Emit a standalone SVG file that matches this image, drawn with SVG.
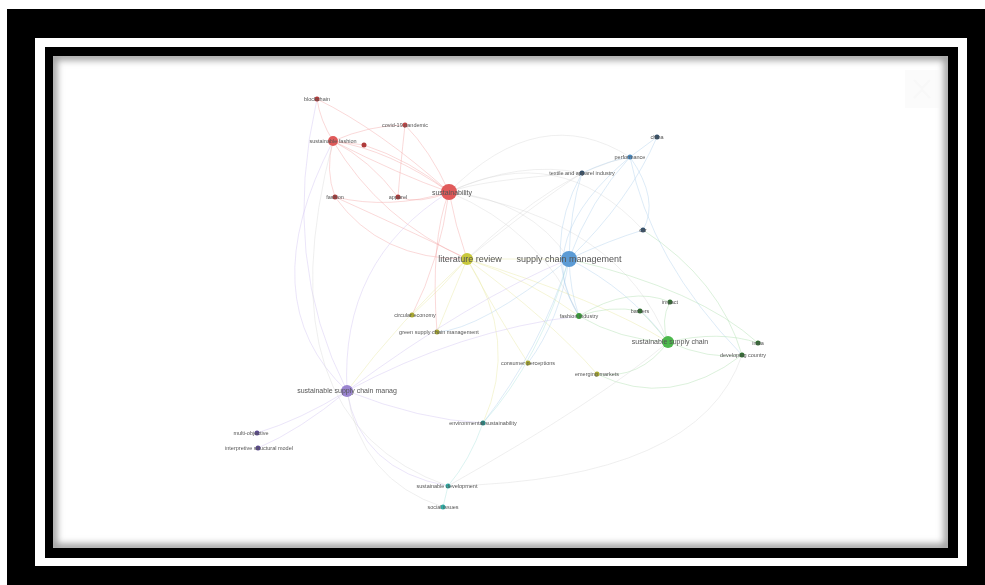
<svg xmlns="http://www.w3.org/2000/svg" width="985" height="585" viewBox="0 0 985 585">
<defs>
<filter id="blur" x="-10%" y="-10%" width="120%" height="120%"><feGaussianBlur stdDeviation="3.5"/></filter>
<filter id="soft"><feGaussianBlur stdDeviation="0.5"/></filter>
<clipPath id="cp"><rect x="53" y="56" width="895" height="492"/></clipPath>
<style>
.lbl{font-family:"Liberation Sans",Arial,sans-serif;fill:#555;text-anchor:middle}
.s{font-size:5.5px}
.m{font-size:7px}
.b{font-size:9px}
.e{fill:none;stroke-width:1;opacity:0.4}
.r{stroke:#f2a0a0}.y{stroke:#e6e69a}.bl{stroke:#a9cdec}.g{stroke:#a8dca8}.p{stroke:#cdbdf0}.t{stroke:#a8e0dc}.gr{stroke:#d8d8d8}
</style>
</defs>
<rect width="985" height="585" fill="#fff"/>
<rect x="7" y="9" width="978" height="576" fill="#000"/>
<rect x="35" y="38" width="932" height="528" fill="#fff"/>
<rect x="45" y="47" width="913" height="511" fill="#000"/>
<rect x="53" y="56" width="895" height="492" fill="#fff"/>
<g clip-path="url(#cp)">
<rect x="53" y="56" width="895" height="492" fill="none" stroke="#9a9a9a" stroke-width="8" filter="url(#blur)"/>
</g>
<g id="zoom-control" opacity="0.35">
<rect x="905" y="70" width="34" height="38" fill="#f4f4f4"/>
<path d="M914 80 L922 88 L930 80 M914 98 L922 90 L930 98" stroke="#ececec" stroke-width="2" fill="none"/>
</g>
<g id="connectors" filter="url(#soft)">
<path class="e r" d="M317 99 Q320 120 333 141"/>
<path class="e r" d="M317 99 Q380 130 449 192"/>
<path class="e r" d="M333 141 Q390 150 449 192"/>
<path class="e r" d="M333 141 Q400 175 449 192"/>
<path class="e r" d="M333 141 L364 145"/>
<path class="e r" d="M333 141 Q325 170 335 197"/>
<path class="e r" d="M333 141 Q370 160 398 197"/>
<path class="e r" d="M333 141 Q380 220 467 259"/>
<path class="e r" d="M405 125 Q430 150 449 192"/>
<path class="e r" d="M405 125 Q370 125 333 141"/>
<path class="e r" d="M405 125 Q400 170 398 197"/>
<path class="e r" d="M364 145 Q410 160 449 192"/>
<path class="e r" d="M449 192 Q390 210 335 197"/>
<path class="e r" d="M449 192 Q420 205 398 197"/>
<path class="e r" d="M449 192 Q455 225 467 259"/>
<path class="e r" d="M449 192 Q430 240 437 332"/>
<path class="e r" d="M449 192 Q440 260 412 315"/>
<path class="e r" d="M335 197 Q380 260 467 259"/>
<path class="e r" d="M335 197 Q430 240 467 259"/>
<path class="e gr" d="M449 192 Q530 200 569 259"/>
<path class="e gr" d="M449 192 Q520 160 582 173"/>
<path class="e gr" d="M449 192 Q540 100 630 157"/>
<path class="e gr" d="M449 192 Q560 140 643 230"/>
<path class="e gr" d="M449 192 Q540 230 579 316"/>
<path class="e gr" d="M449 192 Q620 220 668 342"/>
<path class="e p" d="M333 141 Q250 300 347 391"/>
<path class="e p" d="M449 192 Q340 260 347 391"/>
<path class="e p" d="M317 99 Q280 260 347 391"/>
<path class="e gr" d="M333 141 Q260 420 448 486"/>
<path class="e y" d="M467 259 L569 259"/>
<path class="e y" d="M467 259 Q440 290 412 315"/>
<path class="e y" d="M467 259 Q450 300 437 332"/>
<path class="e y" d="M467 259 Q500 320 528 363"/>
<path class="e y" d="M467 259 Q400 320 347 391"/>
<path class="e y" d="M467 259 Q530 280 579 316"/>
<path class="e y" d="M467 259 Q550 320 597 374"/>
<path class="e y" d="M467 259 Q520 340 483 423"/>
<path class="e y" d="M467 259 Q600 300 668 342"/>
<path class="e gr" d="M467 259 Q540 200 582 173"/>
<path class="e gr" d="M467 259 Q560 170 630 157"/>
<path class="e bl" d="M569 259 Q570 210 582 173"/>
<path class="e bl" d="M569 259 Q590 200 630 157"/>
<path class="e bl" d="M569 259 Q630 200 657 137"/>
<path class="e bl" d="M569 259 Q610 240 643 230"/>
<path class="e bl" d="M569 259 Q570 290 579 316"/>
<path class="e bl" d="M569 259 Q630 290 668 342"/>
<path class="e bl" d="M569 259 Q540 350 483 423"/>
<path class="e bl" d="M569 259 Q560 320 528 363"/>
<path class="e bl" d="M569 259 Q480 330 437 332"/>
<path class="e bl" d="M630 157 L657 137"/>
<path class="e bl" d="M630 157 Q610 160 582 173"/>
<path class="e bl" d="M630 157 Q660 200 643 230"/>
<path class="e bl" d="M630 157 Q650 260 742 355"/>
<path class="e bl" d="M582 173 Q540 250 579 316"/>
<path class="e bl" d="M630 157 Q530 240 579 316"/>
<path class="e gr" d="M582 173 Q480 180 449 192"/>
<path class="e g" d="M579 316 Q610 305 640 311"/>
<path class="e g" d="M579 316 Q620 340 668 342"/>
<path class="e g" d="M579 316 Q630 285 670 302"/>
<path class="e g" d="M668 342 Q660 320 670 302"/>
<path class="e g" d="M668 342 Q650 320 640 311"/>
<path class="e g" d="M668 342 Q720 330 758 343"/>
<path class="e g" d="M668 342 Q710 360 742 355"/>
<path class="e g" d="M668 342 Q640 380 597 374"/>
<path class="e g" d="M742 355 Q720 280 643 230"/>
<path class="e g" d="M758 343 Q700 290 569 259"/>
<path class="e g" d="M742 355 Q670 410 597 374"/>
<path class="e p" d="M347 391 Q300 420 257 433"/>
<path class="e p" d="M347 391 Q300 430 258 448"/>
<path class="e p" d="M347 391 Q360 470 448 486"/>
<path class="e p" d="M347 391 Q420 420 483 423"/>
<path class="e p" d="M347 391 Q470 300 569 259"/>
<path class="e p" d="M347 391 Q460 330 579 316"/>
<path class="e t" d="M483 423 Q470 460 448 486"/>
<path class="e t" d="M448 486 L443 507"/>
<path class="e t" d="M483 423 Q540 360 569 259"/>
<path class="e gr" d="M448 486 Q700 480 742 355"/>
<path class="e gr" d="M448 486 Q600 400 668 342"/>
<path class="e gr" d="M443 507 Q360 480 347 391"/>
</g>
<g id="node-blockchain"><circle cx="317" cy="99" r="2.5" fill="#b03a3a"/><text class="lbl s" x="317" y="101">blockchain</text></g>
<g id="node-sustainable-fashion"><circle cx="333" cy="141" r="5" fill="#e05a5a"/><text class="lbl s" x="333" y="143">sustainable fashion</text></g>
<g id="node-red-small"><circle cx="364" cy="145" r="2.5" fill="#b03a3a"/></g>
<g id="node-covid"><circle cx="405" cy="125" r="2.5" fill="#c04545"/><text class="lbl s" x="405" y="127">covid-19 pandemic</text></g>
<g id="node-sustainability"><circle cx="449" cy="192" r="8" fill="#e05a5a"/><text class="lbl m" x="452" y="195">sustainability</text></g>
<g id="node-fashion"><circle cx="335" cy="197" r="2.5" fill="#b03a3a"/><text class="lbl s" x="335" y="199">fashion</text></g>
<g id="node-apparel"><circle cx="398" cy="197" r="2.5" fill="#b03a3a"/><text class="lbl s" x="398" y="199">apparel</text></g>
<g id="node-literature-review"><circle cx="467" cy="259" r="6" fill="#c8c83c"/><text class="lbl b" x="470" y="262">literature review</text></g>
<g id="node-circular-economy"><circle cx="412" cy="315" r="2.5" fill="#a8a830"/><text class="lbl s" x="415" y="317">circular economy</text></g>
<g id="node-gscm"><circle cx="437" cy="332" r="2.5" fill="#a8a830"/><text class="lbl s" x="439" y="334">green supply chain management</text></g>
<g id="node-consumer"><circle cx="528" cy="363" r="2.5" fill="#a8a830"/><text class="lbl s" x="528" y="365">consumer perceptions</text></g>
<g id="node-emerging-markets"><circle cx="597" cy="374" r="2.5" fill="#a8a830"/><text class="lbl s" x="597" y="376">emerging markets</text></g>
<g id="node-scm"><circle cx="569" cy="259" r="8" fill="#5b9bd5"/><text class="lbl b" x="569" y="262">supply chain management</text></g>
<g id="node-textile"><circle cx="582" cy="173" r="2.5" fill="#34506b"/><text class="lbl s" x="582" y="175">textile and apparel industry</text></g>
<g id="node-performance"><circle cx="630" cy="157" r="2.5" fill="#4a8ac0"/><text class="lbl s" x="630" y="159">performance</text></g>
<g id="node-china"><circle cx="657" cy="137" r="2.5" fill="#34506b"/><text class="lbl s" x="657" y="139">china</text></g>
<g id="node-csr"><circle cx="643" cy="230" r="2.5" fill="#34506b"/><text class="lbl s" x="643" y="232">csr</text></g>
<g id="node-fashion-industry"><circle cx="579" cy="316" r="3" fill="#3a9a3a"/><text class="lbl s" x="579" y="318">fashion industry</text></g>
<g id="node-barriers"><circle cx="640" cy="311" r="2.5" fill="#2f6e2f"/><text class="lbl s" x="640" y="313">barriers</text></g>
<g id="node-impact"><circle cx="670" cy="302" r="2.5" fill="#2f6e2f"/><text class="lbl s" x="670" y="304">impact</text></g>
<g id="node-ssc"><circle cx="668" cy="342" r="6" fill="#4cb84c"/><text class="lbl m" x="670" y="344">sustainable supply chain</text></g>
<g id="node-india"><circle cx="758" cy="343" r="2.5" fill="#2f6e2f"/><text class="lbl s" x="758" y="345">india</text></g>
<g id="node-developing-country"><circle cx="742" cy="355" r="2.5" fill="#2f6e2f"/><text class="lbl s" x="743" y="357">developing country</text></g>
<g id="node-sscm"><circle cx="347" cy="391" r="6" fill="#9a84d0"/><text class="lbl m" x="347" y="393">sustainable supply chain manag</text></g>
<g id="node-multi-objective"><circle cx="257" cy="433" r="2.5" fill="#5c4a90"/><text class="lbl s" x="251" y="435">multi-objective</text></g>
<g id="node-ism"><circle cx="258" cy="448" r="2.5" fill="#5c4a90"/><text class="lbl s" x="259" y="450">interpretive structural model</text></g>
<g id="node-env-sustainability"><circle cx="483" cy="423" r="2.5" fill="#2a8a86"/><text class="lbl s" x="483" y="425">environmental sustainability</text></g>
<g id="node-sust-development"><circle cx="448" cy="486" r="2.5" fill="#2eb0a8"/><text class="lbl s" x="447" y="488">sustainable development</text></g>
<g id="node-social-issues"><circle cx="443" cy="507" r="2.5" fill="#2eb0a8"/><text class="lbl s" x="443" y="509">social issues</text></g>
</svg>
